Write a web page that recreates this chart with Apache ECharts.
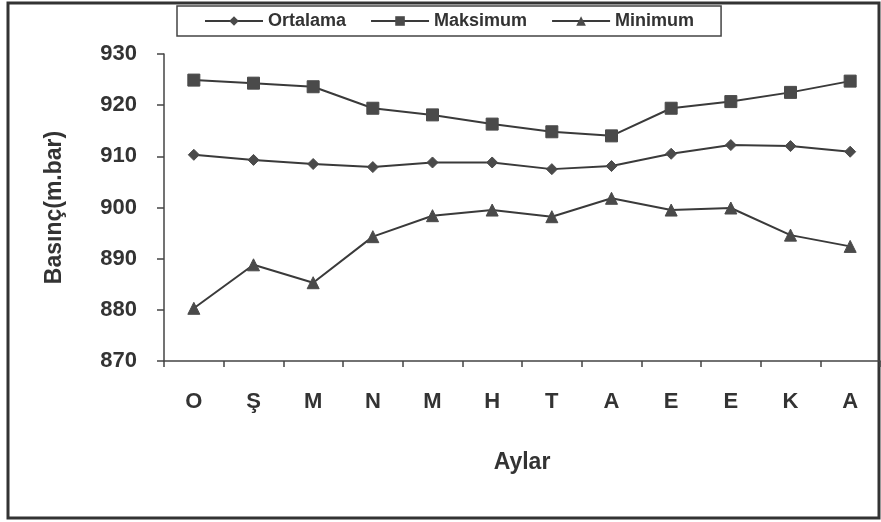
<!DOCTYPE html>
<html>
<head>
<meta charset="utf-8">
<script src="https://cdn.jsdelivr.net/npm/echarts@6/dist/echarts.min.js"></script>
<style>
  html, body { margin: 0; padding: 0; background: #fff; }
  #chart { width: 881px; height: 522px; }
</style>
</head>
<body>
<div id="chart"></div>
<script>
  // aylar (x ekseni)
  const months = ['O', 'Ş', 'M', 'N', 'M', 'H', 'T', 'A', 'E', 'E', 'K', 'A'];
  // seriler (m.bar)
  const ortalama = [910.3, 909.3, 908.5, 907.9, 908.8, 908.8, 907.5, 908.1, 910.5, 912.2, 912.0, 910.9];
  const maksimum = [924.9, 924.3, 923.6, 919.4, 918.1, 916.3, 914.8, 914.0, 919.4, 920.7, 922.5, 924.7];
  const minimum = [880.3, 888.8, 885.3, 894.3, 898.4, 899.5, 898.2, 901.8, 899.5, 899.9, 894.6, 892.4];
  // y ekseni
  const yMin = 870, yMax = 930, yStep = 10;

  const ink = '#3a3a3a';
  const font = 'Liberation Sans, Arial, sans-serif';

  const chart = echarts.init(document.getElementById('chart'));

  function line(name, data, symbol, size) {
    return {
      name: name,
      type: 'line',
      data: data,
      symbol: symbol,
      symbolSize: size,
      lineStyle: { color: ink, width: 2 },
      itemStyle: { color: '#4a4a4a', borderColor: '#4a4a4a' },
      emphasis: { disabled: true }
    };
  }

  chart.setOption({
    animation: false,
    backgroundColor: '#fff',
    graphic: [{
      type: 'rect',
      shape: { x: 8, y: 3, width: 871, height: 515 },
      style: { fill: 'none', stroke: '#333', lineWidth: 3 },
      silent: true
    }],
    legend: {
      left: 177,
      top: 6,
      padding: [6, 27, 6, 27],
      borderColor: '#444',
      borderWidth: 1.5,
      itemWidth: 58,
      itemHeight: 12,
      itemGap: 24,
      textStyle: {
        color: '#333',
        fontFamily: font,
        fontWeight: 'bold',
        fontSize: 18
      },
      data: ['Ortalama', 'Maksimum', 'Minimum']
    },
    grid: {
      left: 164,
      right: 1,
      top: 54,
      bottom: 161,
      containLabel: false
    },
    xAxis: {
      type: 'category',
      data: months,
      boundaryGap: true,
      name: 'Aylar',
      nameLocation: 'middle',
      nameGap: 90,
      nameTextStyle: { color: '#333', fontFamily: font, fontWeight: 'bold', fontSize: 23 },
      axisLine: { lineStyle: { color: '#444', width: 1.5 } },
      axisTick: { show: true, length: 6, alignWithLabel: false, lineStyle: { color: '#444', width: 1.5 } },
      axisLabel: { color: '#333', fontFamily: font, fontWeight: 'bold', fontSize: 22, margin: 30 },
      splitLine: { show: false }
    },
    yAxis: {
      type: 'value',
      min: yMin,
      max: yMax,
      interval: yStep,
      name: 'Basınç(m.bar)',
      nameLocation: 'middle',
      nameGap: 98,
      nameTextStyle: { color: '#333', fontFamily: font, fontWeight: 'bold', fontSize: 23 },
      axisLine: { show: true, lineStyle: { color: '#444', width: 1.5 } },
      axisTick: { show: true, length: 7, lineStyle: { color: '#444', width: 1.5 } },
      axisLabel: { color: '#333', fontFamily: font, fontWeight: 'bold', fontSize: 22, margin: 27 },
      splitLine: { show: false }
    },
    series: [
      line('Ortalama', ortalama, 'diamond', 11),
      line('Maksimum', maksimum, 'rect', 12),
      line('Minimum', minimum, 'triangle', 12)
    ]
  });
</script>
</body>
</html>
